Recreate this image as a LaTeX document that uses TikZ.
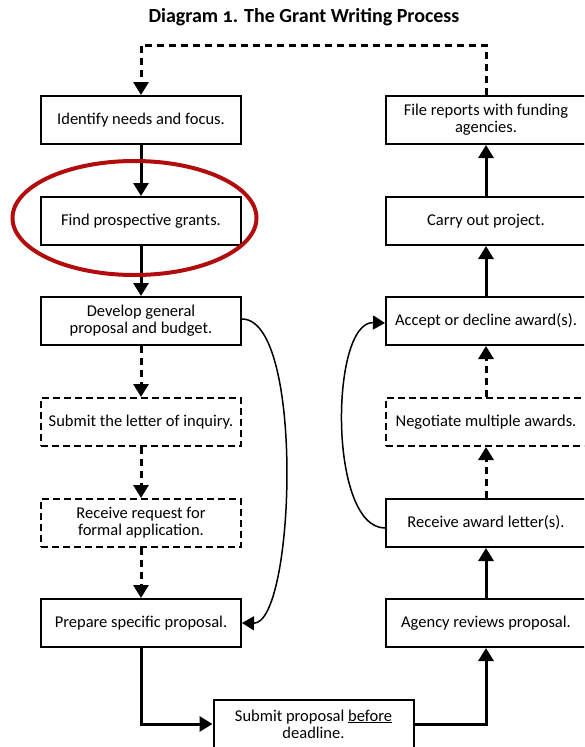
\documentclass[tikz,border=0pt]{standalone}
\usepackage{fontspec}
\setmainfont{Carlito}
\usetikzlibrary{positioning,arrows.meta}
\definecolor{markred}{RGB}{178,12,12}
\tikzset{stepbox/.style={draw=black, line width=2pt, minimum width=200pt, minimum height=48pt, inner sep=2pt, align=center, font=\fontsize{16.5}{17}\selectfont},
optbox/.style={stepbox, dash pattern=on 7pt off 4pt}}
\tikzset{flow/.style={line width=3pt, -{Triangle[length=13pt,width=15pt]}},
optflow/.style={flow, dash pattern=on 7pt off 5pt},
loopflow/.style={line width=1.5pt, -{Triangle[length=12pt,width=14pt]}}}

\begin{document}
\begin{tikzpicture}[x=1pt,y=-1pt]
		\useasboundingbox (0,0) rectangle (584,747);
		\clip (0,0) rectangle (584,747);
		\node[font=\bfseries\fontsize{20}{22}\selectfont] (title) at (304,17) {Diagram {\addfontfeatures{Numbers=OldStyle}1}. The Grant Writing Process};
		% left column
		\node[stepbox] (identify) at (141,120) {Identify needs and focus.};
		\node[stepbox] (find) at (141,221) {Find prospective grants.};
		\node[stepbox] (develop) at (141,321) {Develop general\\proposal and budget.};
		\node[optbox] (inquiry) at (141,422) {Submit the letter of inquiry.};
		\node[optbox] (request) at (141,523) {Receive request for\\formal application.};
		\node[stepbox] (prepare) at (141,623) {Prepare specific proposal.};
		\node[stepbox] (submit) at (313.5,724) {Submit proposal \underline{before}\\deadline.};
		% right column
		\node[stepbox] (agency) at (486,623) {Agency reviews proposal.};
		\node[stepbox] (letter) at (486,523) {Receive award letter(s).};
		\node[optbox] (negotiate) at (486,422) {Negotiate multiple awards.};
		\node[stepbox] (accept) at (486,321) {Accept or decline award(s).};
		\node[stepbox] (carry) at (486,221) {Carry out project.};
		\node[stepbox] (reports) at (486,120) {File reports with funding\\agencies.};
		\coordinate (topright) at (486,45);
		\coordinate (topleft) at (141,45);
		% connectors
		\draw[flow] (identify) -- (find);
		\draw[flow] (find) -- (develop);
		\draw[optflow] (develop) -- (inquiry);
		\draw[optflow] (inquiry) -- (request);
		\draw[optflow] (request) -- (prepare);
		\draw[flow] (prepare.south) |- (submit.west);
		\draw[flow] (submit.east) -| (agency.south);
		\draw[flow] (agency) -- (letter);
		\draw[optflow] (letter) -- (negotiate);
		\draw[optflow] (negotiate) -- (accept);
		\draw[flow] (accept) -- (carry);
		\draw[flow] (carry) -- (reports);
		\draw[optflow] (reports.north) -- (topright) -- (topleft) -- (identify.north);
		\draw[loopflow] ([yshift=2pt]develop.east) .. controls (305,319) and (295,624) .. (prepare.east);
		\draw[loopflow] ([yshift=-5pt]letter.west) .. controls (328,528) and (330,321) .. ([yshift=-2pt]accept.west);
		% highlight
		\draw[markred, line width=4pt] (134.5,218) ellipse [x radius=122pt, y radius=57pt];
	\end{tikzpicture}
\end{document}
